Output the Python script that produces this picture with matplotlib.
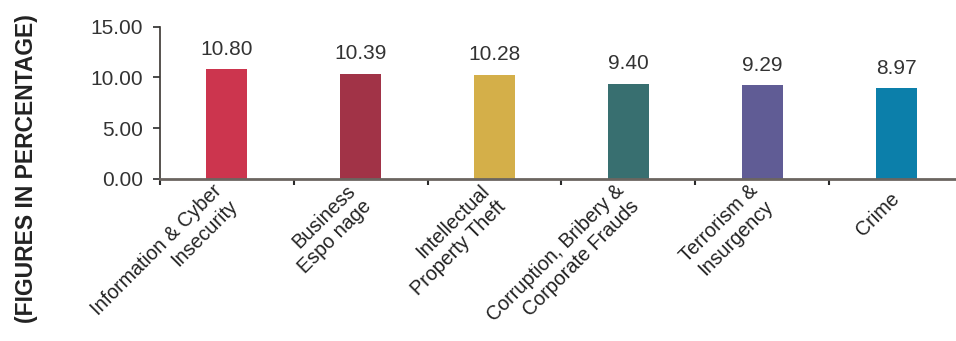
import matplotlib
matplotlib.use("Agg")
import matplotlib.pyplot as plt
import numpy as np

categories = [
    "Information & Cyber\nInsecurity",
    "Business\nEspo nage",
    "Intellectual\nProperty Theft",
    "Corruption, Bribery &\nCorporate Frauds",
    "Terrorism &\nInsurgency",
    "Crime",
]
values = [10.80, 10.39, 10.28, 9.40, 9.29, 8.97]
colors = ["#CC354E", "#A13347", "#D4AF49", "#386F70", "#605C95", "#0C7FAA"]
yticks = [0.0, 5.0, 10.0, 15.0]

plt.rcParams["font.family"] = ["Liberation Sans", "DejaVu Sans"]

fig = plt.figure(figsize=(9.56, 3.41), dpi=100)
ax = fig.add_axes([160 / 956, 1 - 179 / 341, (963 - 160) / 956, (179 - 26.7) / 341])

x = np.arange(len(categories))
bars = ax.bar(x, values, width=0.306, color=colors, zorder=2)

for xi, v in zip(x, values):
    ax.text(xi, v + 1.0, f"{v:.2f}", ha="center", va="bottom",
            fontsize=15, color="#333333")

ax.set_xlim(-0.5, len(categories) - 0.5)
ax.set_ylim(0, 15)
ax.set_yticks(yticks)
ax.set_yticklabels([f"{t:.2f}" for t in yticks], fontsize=15, color="#333333")

ax.set_xticks(x)
ax.set_xticklabels(categories, rotation=45, ha="right", va="center",
                   rotation_mode="anchor", multialignment="right",
                   fontsize=14.2, color="#222222")
ax.tick_params(axis="x", which="major", length=0, pad=12)
ax.set_xticks(np.arange(len(categories)) - 0.5, minor=True)
ax.tick_params(axis="x", which="minor", length=4, width=1.5, color="#2a2a2a")
ax.tick_params(axis="y", length=5, width=1.2, color="#2a2a2a", pad=7)

for s in ["top", "right"]:
    ax.spines[s].set_visible(False)
ax.spines["left"].set_color("#3a3530")
ax.spines["left"].set_linewidth(1.2)
ax.spines["bottom"].set_color("#6b6560")
ax.spines["bottom"].set_linewidth(2)
ax.spines["bottom"].set_zorder(3)

fig.text(27 / 956, 0.505, "(FIGURES IN PERCENTAGE)", rotation=90,
         ha="center", va="center", fontsize=16.5, fontweight="bold",
         color="#222222")

fig.savefig("out.png", dpi=100)
